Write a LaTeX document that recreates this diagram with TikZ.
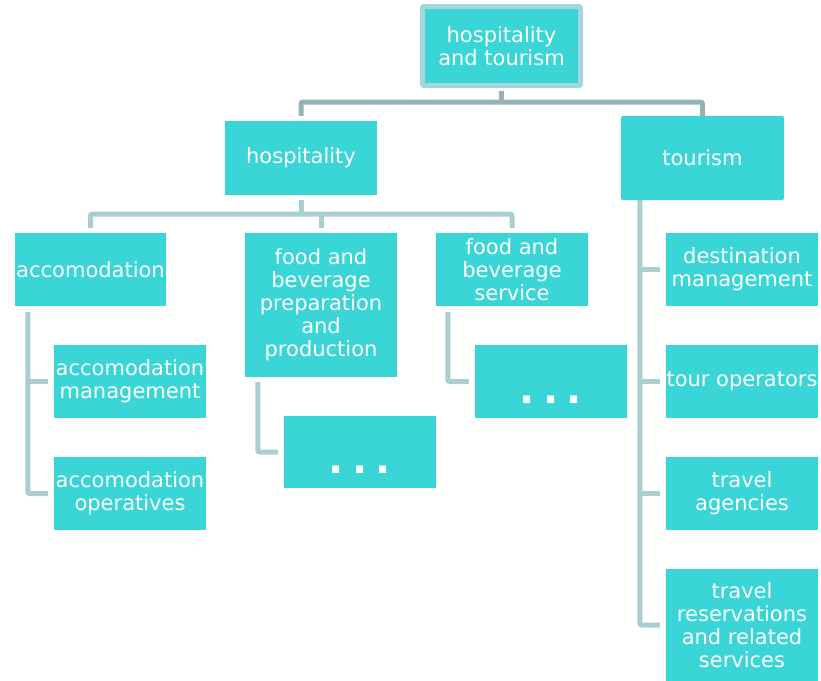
\documentclass[tikz,border=0pt]{standalone}
\usepackage{fontspec}
\setmainfont{DejaVu Sans}
\definecolor{boxfill}{HTML}{3AD5D7}
\definecolor{topborder}{HTML}{A3D7DB}
\definecolor{connA}{HTML}{94B4B8}
\definecolor{connB}{HTML}{A9CDD0}
\newcommand{\bigdots}{\raisebox{-21.5pt}[0pt][0pt]{\fontsize{40}{40}\selectfont\bfseries .\kern8.3pt.\kern8.3pt.}}
\begin{document}
\begin{tikzpicture}[x=1pt,y=-1pt,
  box/.style={fill=boxfill, draw=none, text=white, align=center, inner sep=0pt,
    minimum width=152pt, minimum height=73pt, font=\fontsize{21}{23}\selectfont},
  conn1/.style={draw=connA, line width=5pt, rounded corners=2pt},
  conn2/.style={draw=connB, line width=5pt, rounded corners=2pt}]
\useasboundingbox (0,0) rectangle (821,680);
% nodes
\node[box, draw=topborder, line width=5pt, rounded corners=1.5pt, minimum width=158pt, minimum height=79pt] (top) at (501.5,46) {hospitality\\and tourism};
\node[box, minimum height=74pt] (hosp) at (301,158) {hospitality};
\node[box, minimum width=163pt, minimum height=84pt, rounded corners=2pt] (tour) at (702.5,158) {tourism};
\node[box, minimum width=151pt] (acc) at (90.5,269.5) {accomodation};
\node[box, minimum height=144pt] (fbp) at (321,305) {food and\\beverage\\preparation\\and\\production};
\node[box] (fbs) at (512,269.5) {food and\\beverage\\service};
\node[box] (am) at (130,381.5) {accomodation\\management};
\node[box] (ao) at (130,493.5) {accomodation\\operatives};
\node[box, minimum height=72pt] (d1) at (360,452) {\bigdots};
\node[box] (d2) at (551,381.5) {\bigdots};
\node[box] (dm) at (742,269.5) {destination\\management};
\node[box] (to) at (742,381.5) {tour operators};
\node[box] (ta) at (742,493.5) {travel\\agencies};
\node[box, minimum height=112pt] (tr) at (742,625) {travel\\reservations\\and related\\services};
% level 1 connectors
\coordinate (b1) at (501.5,102);
\draw[conn1] ([yshift=-2.5pt]top.south) -- (b1);
\draw[conn1] ([yshift=5pt]hosp.north) |- (b1) -| (tour.north);
% hospitality connectors
\coordinate (b2) at (301,214);
\draw[conn2] ([yshift=-5pt]hosp.south) -- (b2);
\draw[conn2] ([yshift=5pt]acc.north) |- (b2) -| ([yshift=5pt]fbs.north);
\draw[conn2] ([yshift=5pt]fbp.north) -- (fbp.north |- b2);
% accomodation children
\draw[conn2] ([shift={(13pt,-6pt)}]acc.south west) |- ([xshift=-6pt]ao.west);
\draw[conn2] ([xshift=-26pt]am.west) -- ([xshift=-6pt]am.west);
% food prep child
\draw[conn2] ([shift={(13pt,-5pt)}]fbp.south west) |- ([xshift=-6pt]d1.west);
% food service child
\draw[conn2] ([shift={(12pt,-6pt)}]fbs.south west) |- ([xshift=-6pt]d2.west);
% tourism children
\draw[conn2] ([xshift=19pt]tour.south west) |- ([xshift=-6pt]tr.west);
\draw[conn2] ([xshift=-26pt]dm.west) -- ([xshift=-6pt]dm.west);
\draw[conn2] ([xshift=-26pt]to.west) -- ([xshift=-6pt]to.west);
\draw[conn2] ([xshift=-26pt]ta.west) -- ([xshift=-6pt]ta.west);
\end{tikzpicture}
\end{document}
